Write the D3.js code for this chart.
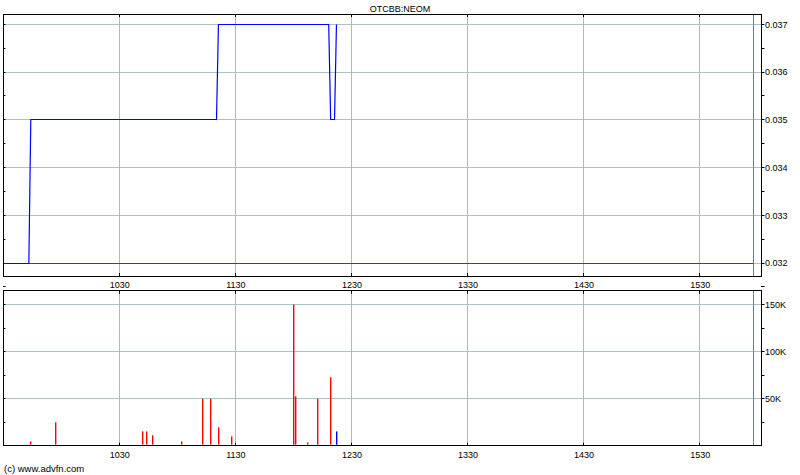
<!DOCTYPE html>
<html>
<head>
<meta charset="utf-8">
<script src="https://cdn.jsdelivr.net/npm/d3@7"></script>
<style>
  html, body { margin: 0; padding: 0; background: #fff; }
  svg { display: block; }
  text { font-family: "Liberation Sans", Arial, sans-serif; fill: #000; }
</style>
</head>
<body>
<svg id="chart" width="800" height="475"></svg>
<script>
// ---- data ----
const title = "OTCBB:NEOM";
const copyright = "(c) www.advfn.com";
const priceTimes  = ["09:30","09:43","09:44","11:20","11:21","12:18","12:19","12:21","12:22"];
const priceValues = [0.032, 0.032, 0.035, 0.035, 0.037, 0.037, 0.035, 0.035, 0.037];
const prevClose = 0.032;
const sessionEnd = "15:58";
const volTimes  = ["09:44","09:57","10:42","10:44","10:47","11:02","11:13","11:17","11:21","11:28","12:00","12:01","12:07","12:12","12:19","12:22"];
const volValues = [4600, 24800, 15200, 15200, 11000, 4600, 50000, 50000, 19500, 9900, 150000, 52500, 3500, 50000, 72700, 15200];
const volSide   = ["down","down","down","down","down","down","down","down","down","down","down","down","down","down","down","up"];
const timeTicks = ["1030","1130","1230","1330","1430","1530"];
const priceTicks = [0.032, 0.033, 0.034, 0.035, 0.036, 0.037];
const priceMinorTicks = [0.0315, 0.032, 0.0325, 0.033, 0.0335, 0.034, 0.0345, 0.035, 0.0355, 0.036, 0.0365, 0.037];
const volTicks = [50000, 100000, 150000];
const volMinorTicks = [25000, 50000, 75000, 100000, 125000, 150000];

// ---- helpers ----
const toMin = s => { const [h, m] = s.split(":").map(Number); return h * 60 + m; };
const tickMin = s => +s.slice(0, 2) * 60 + +s.slice(2);

const svg = d3.select("#chart");
const L = 3, R = 761;
const x = d3.scaleLinear().domain([570, 961.7]).range([3.2, 761]);
const px = v => Math.floor(v) + 0.5;

const P = { top: 14, bottom: 276 };
const V = { top: 290.7, bottom: 445.7 };
const yP = d3.scaleLinear().domain([0.031728, 0.037216]).range([P.bottom, P.top]);
const yV = d3.scaleLinear().domain([0, 164700]).range([V.bottom, V.top]);

const hGridColor = "#a9c3c6";
const vGridColor = "#b6b6b6";

function panel(y, top, bottom, majors, minors, fmt) {
  const g = svg.append("g");
  // horizontal grid
  g.selectAll(".hg").data(majors).join("line")
    .attr("x1", L).attr("x2", R)
    .attr("y1", d => px(y(d))).attr("y2", d => px(y(d)))
    .attr("stroke", hGridColor).attr("stroke-width", 1);
  // vertical grid
  g.selectAll(".vg").data(timeTicks).join("line")
    .attr("x1", d => px(x(tickMin(d)))).attr("x2", d => px(x(tickMin(d))))
    .attr("y1", top).attr("y2", bottom)
    .attr("stroke", vGridColor).attr("stroke-width", 1);
  // session end marker
  g.append("line")
    .attr("x1", px(x(toMin(sessionEnd)))).attr("x2", px(x(toMin(sessionEnd))))
    .attr("y1", top).attr("y2", bottom)
    .attr("stroke", "#6f7f80").attr("stroke-width", 1);
  // x ticks top & bottom (inward)
  g.selectAll(".xt").data(timeTicks).join("line")
    .attr("x1", d => px(x(tickMin(d)))).attr("x2", d => px(x(tickMin(d))))
    .attr("y1", top).attr("y2", top + 3)
    .attr("stroke", "#000");
  g.selectAll(".xb").data(timeTicks).join("line")
    .attr("x1", d => px(x(tickMin(d)))).attr("x2", d => px(x(tickMin(d))))
    .attr("y1", bottom - 3).attr("y2", bottom)
    .attr("stroke", "#000");
  // left minor ticks (inward)
  g.selectAll(".lt").data(minors).join("line")
    .attr("x1", L).attr("x2", L + 2.5)
    .attr("y1", d => px(y(d))).attr("y2", d => px(y(d)))
    .attr("stroke", "#000");
  // right ticks (outward)
  g.selectAll(".rt").data(minors).join("line")
    .attr("x1", R).attr("x2", R + 3.5)
    .attr("y1", d => px(y(d))).attr("y2", d => px(y(d)))
    .attr("stroke", "#000");
  // labels
  g.selectAll(".rl").data(majors).join("text")
    .attr("x", 765).attr("y", d => y(d) + 3.3)
    .attr("font-size", "9px")
    .text(fmt);
  return g;
}

// price panel
const gp = panel(yP, P.top, P.bottom, priceTicks, priceMinorTicks, d => d3.format(".3f")(d));
gp.append("line")
  .attr("x1", L).attr("x2", px(x(toMin(sessionEnd))))
  .attr("y1", px(yP(prevClose))).attr("y2", px(yP(prevClose)))
  .attr("stroke", "#e80000").attr("stroke-width", 1);
const priceData = priceTimes.map((t, i) => [toMin(t), priceValues[i]]);
gp.append("path")
  .datum(priceData)
  .attr("fill", "none")
  .attr("stroke", "#0000ff")
  .attr("stroke-width", 1.2)
  .attr("d", d3.line().x(d => x(d[0]) + 0.5).y(d => px(yP(d[1]))));
gp.append("rect")
  .attr("x", L + 0.5).attr("y", P.top + 0.5)
  .attr("width", R - L).attr("height", P.bottom - P.top)
  .attr("fill", "none").attr("stroke", "#000");

// volume panel
const gv = panel(yV, V.top, V.bottom, volTicks, volMinorTicks, d => d3.format("d")(d / 1000) + "K");
gv.selectAll(".bar").data(volTimes.map((t, i) => ({ t: toMin(t), v: volValues[i], s: volSide[i] })))
  .join("rect")
  .attr("x", d => Math.round(x(d.t)))
  .attr("width", 1.4)
  .attr("y", d => yV(d.v))
  .attr("height", d => yV(0) - yV(d.v) - 1)
  .attr("fill", d => d.s === "up" ? "#0000ff" : "#ff0000");
gv.append("rect")
  .attr("x", L + 0.5).attr("y", Math.floor(V.top) + 0.5)
  .attr("width", R - L).attr("height", Math.floor(V.bottom) - Math.floor(V.top))
  .attr("fill", "none").attr("stroke", "#000");

// time labels (between panels and below volume)
[288, 458].forEach(by => {
  svg.append("g").selectAll("text").data(timeTicks).join("text")
    .attr("x", d => x(tickMin(d)) + 0.5)
    .attr("y", by)
    .attr("text-anchor", "middle")
    .attr("font-size", "9px")
    .text(d => d);
});

// title
svg.append("text")
  .attr("x", 400).attr("y", 11.5)
  .attr("text-anchor", "middle")
  .attr("font-size", "9px")
  .text(title);

// copyright
svg.append("text")
  .attr("x", 4).attr("y", 471.5)
  .attr("font-size", "9.5px")
  .text(copyright);
</script>
</body>
</html>
